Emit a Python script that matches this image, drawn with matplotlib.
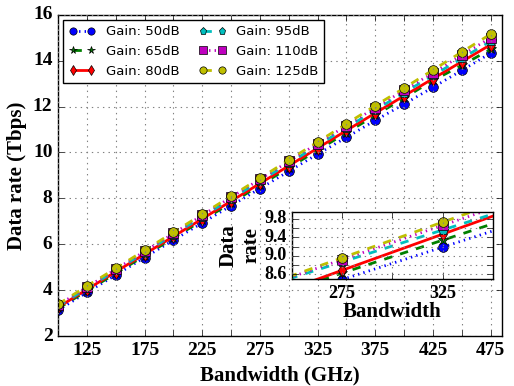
import numpy as np
import matplotlib
matplotlib.use('Agg')
import matplotlib.pyplot as plt

plt.style.use('classic')

# bandwidth points (GHz) and data rate (Tbps) for each gain
bandwidth = [100, 125, 150, 175, 200, 225, 250, 275, 300, 325, 350, 375, 400, 425, 450, 475]
rate_50 = [3.13, 3.90, 4.66, 5.42, 6.18, 6.93, 7.68, 8.43, 9.18, 9.93, 10.66, 11.40, 12.11, 12.84, 13.58, 14.33]
rate_65 = [3.20, 3.97, 4.73, 5.50, 6.27, 7.04, 7.80, 8.57, 9.33, 10.10, 10.86, 11.62, 12.38, 13.14, 13.80, 14.50]
rate_80 = [3.25, 4.03, 4.80, 5.57, 6.34, 7.11, 7.88, 8.65, 9.42, 10.19, 10.96, 11.72, 12.47, 13.22, 13.96, 14.70]
rate_95 = [3.30, 4.08, 4.86, 5.64, 6.42, 7.20, 7.98, 8.76, 9.53, 10.31, 11.08, 11.85, 12.61, 13.36, 14.10, 14.85]
rate_110 = [3.35, 4.13, 4.91, 5.69, 6.47, 7.26, 8.05, 8.83, 9.61, 10.39, 11.17, 11.95, 12.71, 13.47, 14.24, 15.00]
rate_125 = [3.38, 4.18, 4.95, 5.74, 6.52, 7.31, 8.10, 8.88, 9.67, 10.46, 11.25, 12.04, 12.81, 13.60, 14.38, 15.16]

# inset (zoomed) values
inset_bw = [225, 275, 325, 375]
inset_50 = [7.79, 8.49, 9.19, 9.89]
inset_65 = [7.92, 8.63, 9.34, 10.05]
inset_80 = [7.91, 8.69, 9.47, 10.25]
inset_95 = [8.18, 8.87, 9.56, 10.25]
inset_110 = [8.18, 8.92, 9.66, 10.40]
inset_125 = [8.19, 8.96, 9.73, 10.50]

labels = ['Gain: 50dB', 'Gain: 65dB', 'Gain: 80dB', 'Gain: 95dB', 'Gain: 110dB', 'Gain: 125dB']
styles = [('b', 'o', ':'), ('g', '*', '--'), ('r', 'd', '-'),
          ('c', 'p', '--'), ('m', 's', ':'), ('y', 'o', '--')]

serif = 'Liberation Serif'

fig = plt.figure(figsize=(5.14, 3.86), dpi=100)
ax = fig.add_axes([0.113, 0.1295, 0.864, 0.832])

for ys, lab, (c, mk, ls) in zip([rate_50, rate_65, rate_80, rate_95, rate_110, rate_125], labels, styles):
    ax.plot(bandwidth, ys, color=c, marker=mk, linestyle=ls, linewidth=2,
            markersize=7 if mk != '*' else 7.5, label=lab)

ax.set_xlim(100, 485)
ax.set_ylim(2, 16)
ax.set_xticks(np.arange(100, 476, 25))
ax.set_xticklabels(['' if (t - 125) % 50 else str(t) for t in range(100, 476, 25)])
ax.set_yticks(np.arange(2, 17, 2))
ax.grid(True, color='0.5', linestyle=':', linewidth=0.8)
for lbl in ax.get_xticklabels() + ax.get_yticklabels():
    lbl.set_fontfamily(serif)
    lbl.set_fontweight('bold')
    lbl.set_fontsize(14)
ax.set_xlabel('Bandwidth (GHz)', fontfamily=serif, fontweight='bold', fontsize=15)
ax.set_ylabel('Data rate (Tbps)', fontfamily=serif, fontweight='bold', fontsize=15, labelpad=4)
leg = ax.legend(loc='upper left', ncol=2, fontsize=9.5, handlelength=2, numpoints=2,
                markerscale=0.75, columnspacing=1.5, borderaxespad=0.4)

# inset
axin = fig.add_axes([0.568, 0.277, 0.391, 0.174])
for ys, (c, mk, ls) in zip([inset_50, inset_65, inset_80, inset_95, inset_110, inset_125], styles):
    axin.plot(inset_bw, ys, color=c, marker=mk, linestyle=ls, linewidth=2,
              markersize=7 if mk != '*' else 7.5)
axin.set_xlim(250, 350)
axin.set_ylim(8.5, 9.95)
axin.set_xticks([250, 275, 300, 325, 350])
axin.set_xticklabels(['', '275', '', '325', ''])
yt = [8.6, 8.8, 9.0, 9.2, 9.4, 9.6, 9.8]
axin.set_yticks(yt)
axin.set_yticklabels(['8.6', '', '9.0', '', '9.4', '', '9.8'])
axin.grid(True, color='0.5', linestyle=':', linewidth=0.8)
for lbl in axin.get_xticklabels() + axin.get_yticklabels():
    lbl.set_fontfamily(serif)
    lbl.set_fontweight('bold')
    lbl.set_fontsize(13)
axin.set_xlabel('Bandwidth', fontfamily=serif, fontweight='bold', fontsize=15, labelpad=0)
axin.set_ylabel('Data\nrate', fontfamily=serif, fontweight='bold', fontsize=15, labelpad=2)

fig.savefig('out.png', dpi=100)
